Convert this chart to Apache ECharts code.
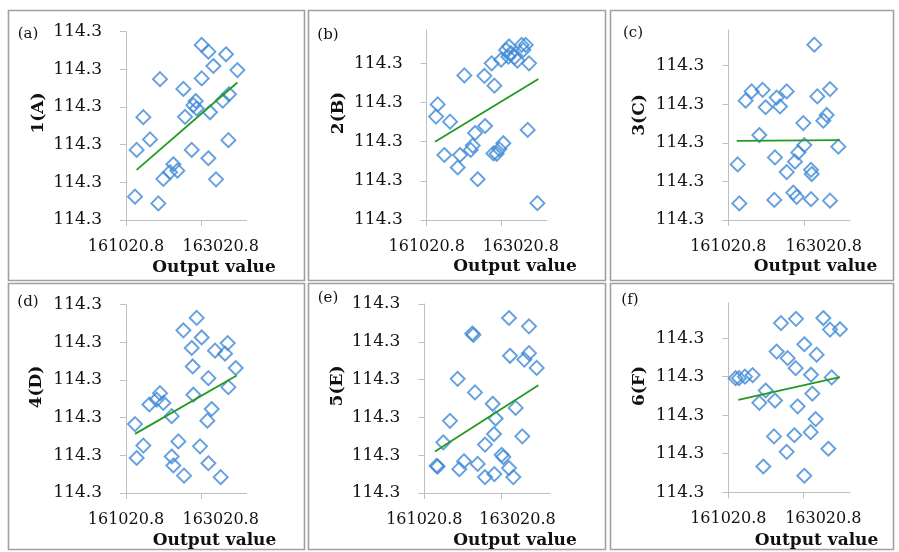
<!DOCTYPE html>
<html>
<head>
<meta charset="utf-8">
<script src="https://cdn.jsdelivr.net/npm/echarts@6/dist/echarts.min.js"></script>
<style>
html,body{margin:0;padding:0;background:#fff;}
#chart{width:899px;height:552px;}
</style>
</head>
<body>
<div id="chart"></div>
<script>
// ---------- data ----------
const panelTags = ['(a)', '(b)', '(c)', '(d)', '(e)', '(f)'];
const yNames = ['1(A)', '2(B)', '3(C)', '4(D)', '5(E)', '6(F)'];
const xName = 'Output value';
const xMin = 161020.8;
const xMax = [163570.8, 163570.8, 163570.8, 163570.8, 163717.8, 163582.8];
const xTickLabels = [161020.8, 163020.8];
const xTickMarks = [162620, 162615, 162607, 162620, 162681, 162600];
const yMin = 114.28;
const yMax = [114.33, 114.3285, 114.3292, 114.33, 114.33, 114.3291];
const yTicks6 = [114.28, 114.29, 114.30, 114.31, 114.32, 114.33];
const yTicks5 = [114.28, 114.29, 114.30, 114.31, 114.32];

const pointsA = [
  [162620,114.3265],[162761,114.3247],[163134,114.3240],[162867,114.3209],[163374,114.3198],
  [161739,114.3174],[162620,114.3176],[162233,114.3148],[163198,114.3134],[163064,114.3117],
  [162493,114.3116],[162444,114.3105],[162514,114.3096],[162268,114.3074],[162796,114.3086],
  [161387,114.3073],[161528,114.3014],[161246,114.2986],[162409,114.2986],[163184,114.3012],
  [162761,114.2964],[162021,114.2948],[161951,114.2927],[162106,114.2931],[161810,114.2909],
  [162923,114.2908],[161211,114.2862],[161704,114.2844]
];
const pointsB = [
  [162771,114.3243],[162707,114.3234],[162813,114.3226],[162884,114.3215],[162756,114.3217],
  [163040,114.3247],[163125,114.3247],[163075,114.3234],[162948,114.3207],[162601,114.3209],
  [162402,114.3200],[163196,114.3200],[161821,114.3169],[162246,114.3168],[162459,114.3143],
  [161255,114.3095],[161219,114.3064],[161517,114.3051],[162261,114.3040],[162048,114.3022],
  [163167,114.3030],[161998,114.2990],[161956,114.2979],[162650,114.2996],[162565,114.2981],
  [162438,114.2970],[162508,114.2969],[161396,114.2966],[161729,114.2966],[161680,114.2934],
  [162105,114.2904],[163373,114.2843]
];
const pointsC = [
  [162823,114.3254],[161510,114.3133],[161384,114.3109],[161741,114.3137],[162034,114.3117],
  [162244,114.3133],[161803,114.3092],[162104,114.3094],[162886,114.3120],[163152,114.3139],
  [162593,114.3051],[163012,114.3057],[163082,114.3072],[161671,114.3020],[162614,114.2994],
  [163326,114.2990],[162488,114.2975],[161217,114.2944],[161999,114.2962],[162418,114.2951],
  [162244,114.2924],[162754,114.2930],[162768,114.2919],[162383,114.2871],[162453,114.2860],
  [161985,114.2852],[162754,114.2854],[163152,114.2850],[161252,114.2843]
];
const pointsD = [
  [162514,114.3265],[162233,114.3232],[162620,114.3213],[162409,114.3185],[162902,114.3178],
  [163169,114.3198],[163113,114.3170],[162430,114.3136],[163338,114.3132],[162761,114.3105],
  [163184,114.3081],[162444,114.3061],[161739,114.3065],[161669,114.3048],[161810,114.3039],
  [161514,114.3035],[162831,114.3023],[161211,114.2983],[161986,114.3004],[162740,114.2992],
  [161387,114.2926],[162127,114.2937],[162585,114.2924],[161246,114.2893],[161986,114.2897],
  [162021,114.2873],[162761,114.2879],[162247,114.2846],[163021,114.2842]
];
const pointsE = [
  [162838,114.3263],[163267,114.3241],[162051,114.3222],[162073,114.3218],[162860,114.3163],
  [163267,114.3170],[163167,114.3153],[163432,114.3131],[161736,114.3102],[162108,114.3066],
  [162488,114.3036],[162981,114.3025],[161572,114.2991],[162552,114.2997],[162516,114.2956],
  [163124,114.2950],[161429,114.2934],[162323,114.2928],[162681,114.2901],[162716,114.2895],
  [161286,114.2872],[161307,114.2870],[161872,114.2884],[161772,114.2863],[162166,114.2877],
  [162323,114.2842],[162523,114.2850],[162838,114.2866],[162931,114.2842]
];
const pointsF = [
  [162446,114.3250],[163021,114.3252],[162130,114.3239],[163162,114.3222],[163372,114.3223],
  [162621,114.3184],[162039,114.3165],[162270,114.3148],[162881,114.3157],[162439,114.3122],
  [161175,114.3096],[161246,114.3096],[161372,114.3100],[161533,114.3104],[162762,114.3105],
  [163197,114.3098],[161807,114.3064],[162004,114.3038],[161674,114.3032],[162790,114.3056],
  [162481,114.3023],[162860,114.2990],[161983,114.2945],[162411,114.2948],[162755,114.2956],
  [162249,114.2905],[163127,114.2913],[161758,114.2867],[162621,114.2843]
];
const trendA = [[161246,114.2933],[163374,114.3165]];
const trendB = [[161198,114.3000],[163394,114.3160]];
const trendC = [[161196,114.3005],[163361,114.3007]];
const trendD = [[161211,114.2957],[163360,114.3112]];
const trendE = [[161250,114.2910],[163468,114.3085]];
const trendF = [[161232,114.3040],[163372,114.3099]];

const allPoints = [pointsA, pointsB, pointsC, pointsD, pointsE, pointsF];
const allTrends = [trendA, trendB, trendC, trendD, trendE, trendF];

// ---------- layout ----------
const grids = [
  {left:126, top:31.7, width:120.7, height:188.3},
  {left:426.7, top:30, width:120, height:190},
  {left:728.3, top:30, width:121.7, height:190},
  {left:126, top:304.7, width:120.7, height:188.3},
  {left:424.3, top:304, width:125.7, height:189},
  {left:728.3, top:303, width:121.7, height:189.3}
];
const frames = [
  [8.5,10.5,296,270],[308.5,10.5,297,270],[610.5,10.5,283,270],
  [8.5,283.5,296,266],[308.5,283.5,297,266],[610.5,283.5,283,266]
];
const tagPos = [[28,34],[328,35],[633,33],[28,302],[328,298],[630,300]];
const yNamePos = [[39,113],[338.5,113],[640,115],[37,387],[338,386],[640,386]];
const xNamePos = [[214,268],[515,267],[815.5,267],[214.5,541],[515,541],[816.5,541]];
const yTickSets = [yTicks6, yTicks5, yTicks5, yTicks6, yTicks6, yTicks5];

const serif = 'DejaVu Serif';
const axisGray = '#bfbfbf';
const blue = '#3d88d6';
const green = '#229a22';
const ink = '#111111';

const option = {
  backgroundColor: '#ffffff',
  animation: false,
  grid: grids.map(g => Object.assign({containLabel:false, outerBoundsMode:'none'}, g)),
  xAxis: grids.map((g, i) => ({
    type: 'value', gridIndex: i, min: xMin, max: xMax[i],
    splitLine: {show:false},
    axisLine: {show:true, lineStyle:{color:axisGray, width:1}},
    axisTick: {show:true, length:6, lineStyle:{color:axisGray}, customValues:[xMin, xTickMarks[i]]},
    axisLabel: {show:true, customValues:xTickLabels, margin:19, color:ink,
      fontFamily:serif, fontSize:16, formatter: v => v.toFixed(1)}
  })),
  yAxis: grids.map((g, i) => ({
    type: 'value', gridIndex: i, min: yMin, max: yMax[i],
    splitLine: {show:false},
    axisLine: {show:true, lineStyle:{color:axisGray, width:1}},
    axisTick: {show:true, length:6, lineStyle:{color:axisGray}, customValues:yTickSets[i]},
    axisLabel: {show:true, customValues:yTickSets[i], margin:24, color:ink,
      fontFamily:serif, fontSize:17, formatter: v => v.toFixed(1)}
  })),
  series: [].concat(...allPoints.map((pts, i) => [
    {
      type:'scatter', xAxisIndex:i, yAxisIndex:i, data:pts,
      symbol:'diamond', symbolSize:14,
      itemStyle:{color:'rgba(0,0,0,0)', borderColor:blue, borderWidth:1.9},
      silent:true
    },
    {
      type:'line', xAxisIndex:i, yAxisIndex:i, data:allTrends[i],
      showSymbol:false, symbol:'none', lineStyle:{color:green, width:1.8}, silent:true, z:3
    }
  ])),
  graphic: [].concat(
    frames.map(f => ({type:'rect', shape:{x:f[0], y:f[1], width:f[2], height:f[3]},
      style:{fill:'none', stroke:'#a0a0a0', lineWidth:1.6}, silent:true})),
    panelTags.map((t, i) => ({type:'text', x:tagPos[i][0], y:tagPos[i][1],
      style:{text:t, font:'15px "DejaVu Serif"', fill:ink, align:'center', verticalAlign:'middle'}})),
    yNames.map((t, i) => ({type:'text', x:yNamePos[i][0], y:yNamePos[i][1], rotation:Math.PI/2,
      style:{text:t, font:'bold 17px "DejaVu Serif"', fill:ink, align:'center', verticalAlign:'middle'}})),
    xNamePos.map(p => ({type:'text', x:p[0], y:p[1],
      style:{text:xName, font:'bold 17px "DejaVu Serif"', fill:ink, align:'center', verticalAlign:'middle'}}))
  )
};

const chart = echarts.init(document.getElementById('chart'), null, {renderer:'canvas'});
chart.setOption(option);
</script>
</body>
</html>
